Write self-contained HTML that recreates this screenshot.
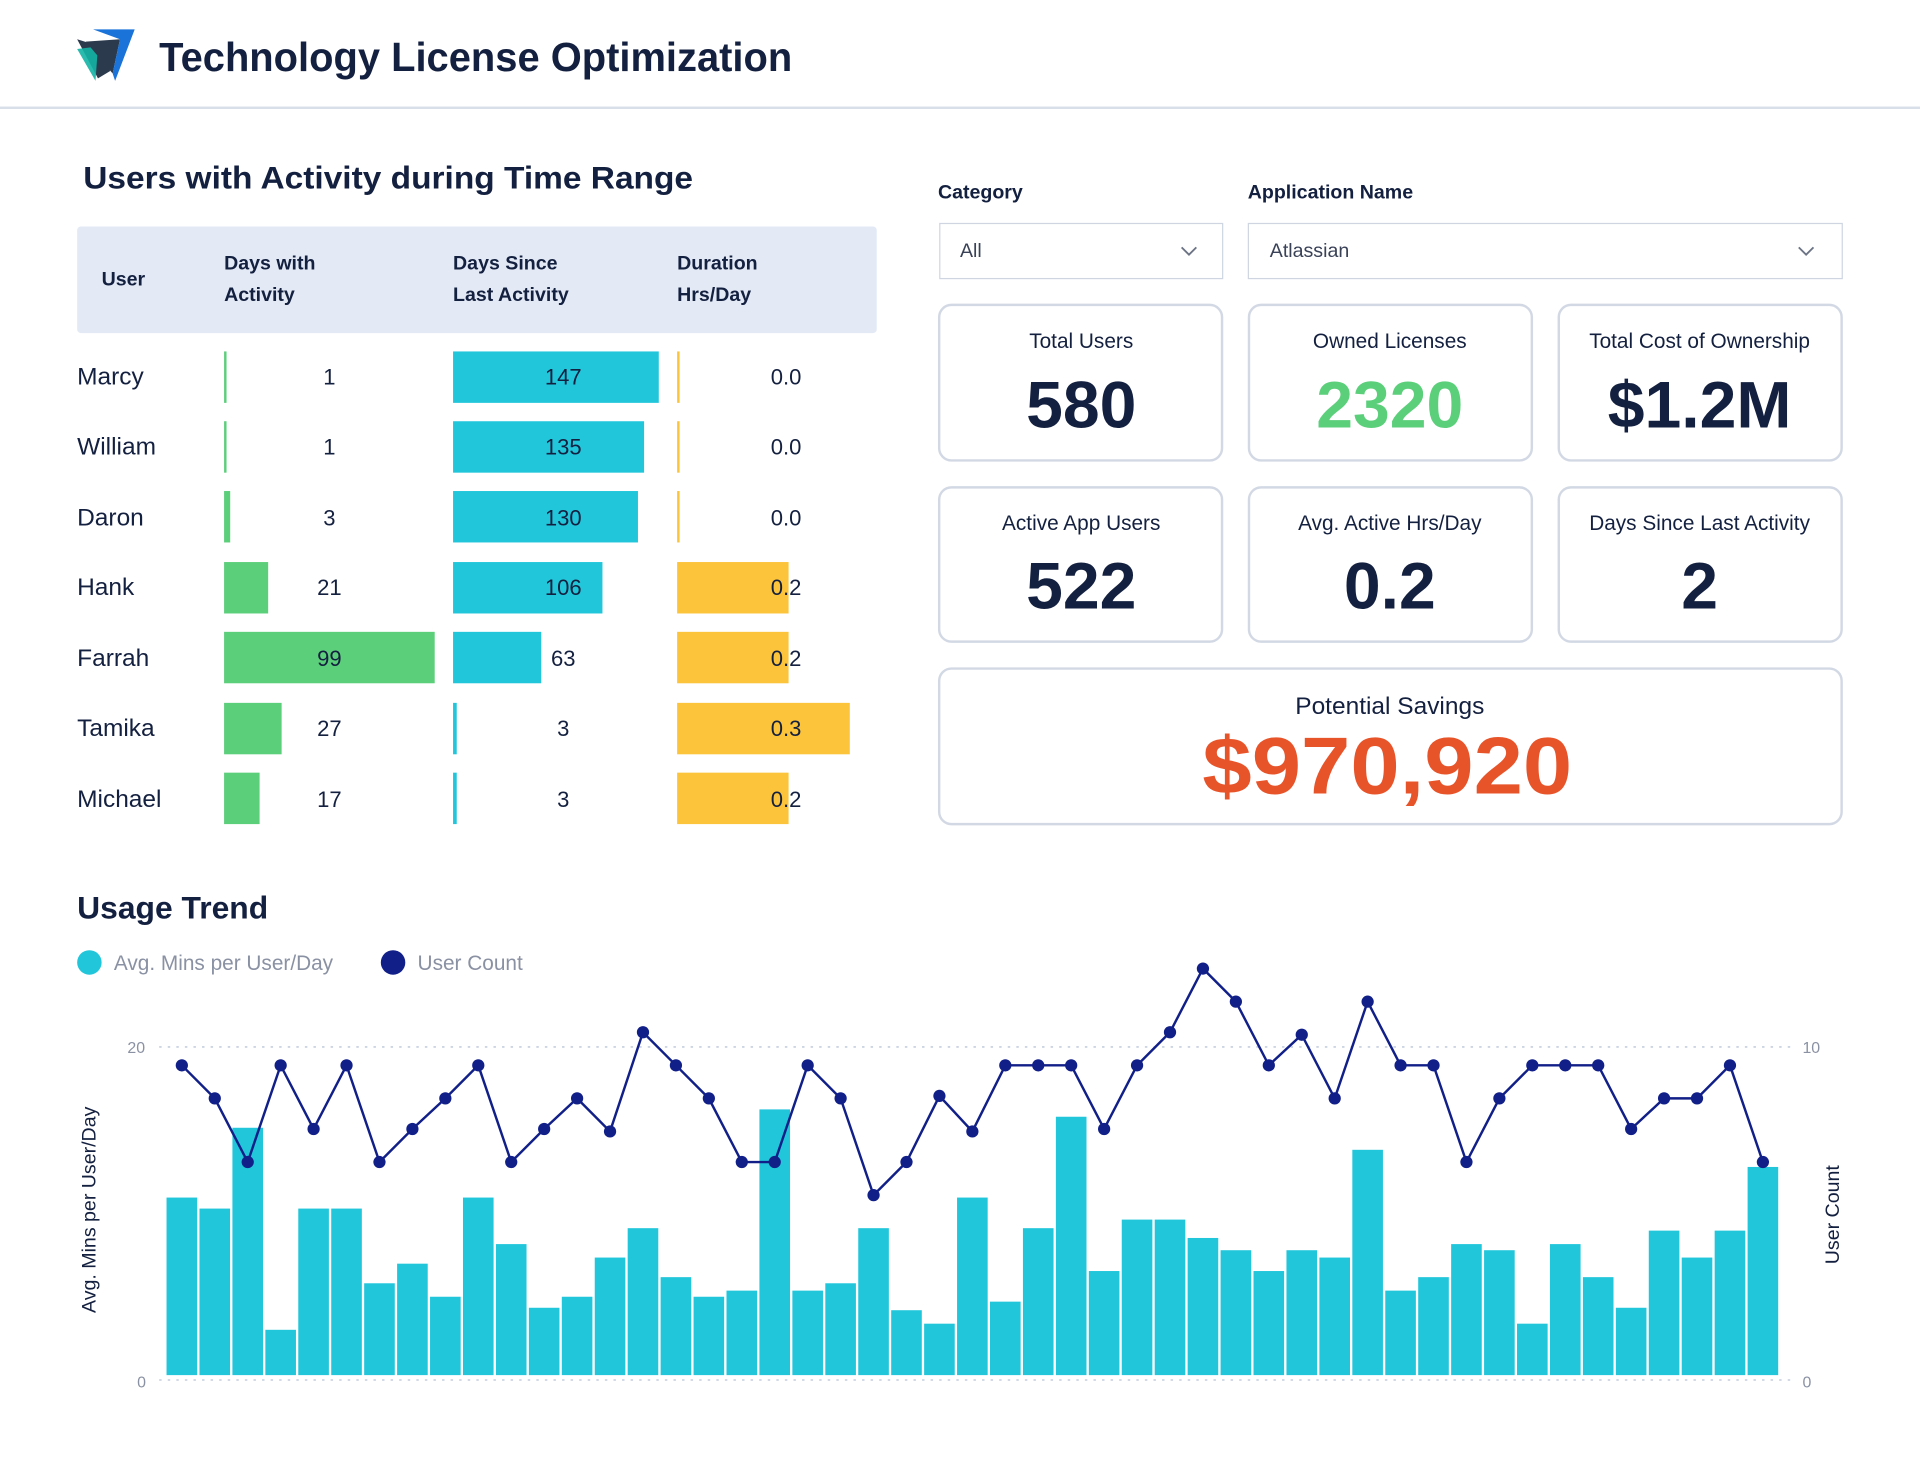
<!DOCTYPE html>
<html><head><meta charset="utf-8"><style>html,body{margin:0;padding:0;background:#fff}svg{display:block}text{font-family:"Liberation Sans",sans-serif}</style></head>
<body>
<svg width="1920" height="1459" viewBox="0 0 1568 1191.5" xmlns="http://www.w3.org/2000/svg">
<rect width="1568" height="1192" fill="#fff"/>
<!-- header -->
<polygon points="63,32 82,38 90,58 80,64" fill="#2b3a4c"/>
<polygon points="63,40 80,38 78,66" fill="#13b3a5" opacity="0.9"/>
<polygon points="70,34 98,32 92,60" fill="#2b3a4c"/>
<polygon points="76,24 110,24 94,66 92,60 98,32" fill="#1a73d9"/>
<text x="130" y="58" font-size="33" font-weight="bold" fill="#14203f" textLength="517" lengthAdjust="spacingAndGlyphs">Technology License Optimization</text>
<rect x="0" y="87" width="1568" height="2" fill="#d8dfe9"/>
<!-- table -->
<text x="68" y="154" font-size="26" font-weight="bold" fill="#14203f" textLength="498" lengthAdjust="spacingAndGlyphs">Users with Activity during Time Range</text>
<rect x="63" y="185" width="653" height="87" rx="3" fill="#e3eaf6"/>
<g font-size="16" font-weight="bold" fill="#14203f">
<text x="83" y="233">User</text>
<text x="183" y="220">Days with</text><text x="183" y="246">Activity</text>
<text x="370" y="220">Days Since</text><text x="370" y="246">Last Activity</text>
<text x="553" y="220">Duration</text><text x="553" y="246">Hrs/Day</text>
</g>
<g font-size="20" fill="#14203f">
<text x="63" y="314">Marcy</text><text x="63" y="371">William</text><text x="63" y="429">Daron</text><text x="63" y="486">Hank</text><text x="63" y="544">Farrah</text><text x="63" y="601">Tamika</text><text x="63" y="659">Michael</text>
</g>
<g fill="#5ccf7b">
<rect x="183" y="287" width="2" height="42"/><rect x="183" y="344" width="2" height="42"/><rect x="183" y="401" width="5" height="42"/><rect x="183" y="459" width="36" height="42"/><rect x="183" y="516" width="172" height="42"/><rect x="183" y="574" width="47" height="42"/><rect x="183" y="631" width="29" height="42"/>
</g>
<g fill="#22c6db">
<rect x="370" y="287" width="168" height="42"/><rect x="370" y="344" width="156" height="42"/><rect x="370" y="401" width="151" height="42"/><rect x="370" y="459" width="122" height="42"/><rect x="370" y="516" width="72" height="42"/><rect x="370" y="574" width="3" height="42"/><rect x="370" y="631" width="3" height="42"/>
</g>
<g fill="#fcc43a">
<rect x="553" y="287" width="2" height="42"/><rect x="553" y="344" width="2" height="42"/><rect x="553" y="401" width="2" height="42"/><rect x="553" y="459" width="91" height="42"/><rect x="553" y="516" width="91" height="42"/><rect x="553" y="574" width="141" height="42"/><rect x="553" y="631" width="91" height="42"/>
</g>
<g font-size="18" fill="#14203f" text-anchor="middle">
<text x="269" y="314">1</text><text x="269" y="371">1</text><text x="269" y="429">3</text><text x="269" y="486">21</text><text x="269" y="544">99</text><text x="269" y="601">27</text><text x="269" y="659">17</text>
<text x="460" y="314">147</text><text x="460" y="371">135</text><text x="460" y="429">130</text><text x="460" y="486">106</text><text x="460" y="544">63</text><text x="460" y="601">3</text><text x="460" y="659">3</text>
<text x="642" y="314">0.0</text><text x="642" y="371">0.0</text><text x="642" y="429">0.0</text><text x="642" y="486">0.2</text><text x="642" y="544">0.2</text><text x="642" y="601">0.3</text><text x="642" y="659">0.2</text>
</g>
<!-- filters -->
<text x="766" y="162" font-size="16" font-weight="bold" fill="#14203f">Category</text>
<text x="1019" y="162" font-size="16" font-weight="bold" fill="#14203f">Application Name</text>
<rect x="767.5" y="182.5" width="231" height="45" fill="#fff" stroke="#cfd6e2"/>
<rect x="1019.5" y="182.5" width="485" height="45" fill="#fff" stroke="#cfd6e2"/>
<text x="784" y="210" font-size="16" fill="#3a4258">All</text>
<text x="1037" y="210" font-size="16" fill="#3a4258">Atlassian</text>
<polyline points="965,202 971,208 977,202" fill="none" stroke="#6b7385" stroke-width="1.5"/>
<polyline points="1469,202 1475,208 1481,202" fill="none" stroke="#6b7385" stroke-width="1.5"/>
<!-- cards -->
<g fill="#fff" stroke="#d3d9e4" stroke-width="2">
<rect x="767" y="249" width="231" height="127" rx="10"/><rect x="1020" y="249" width="231" height="127" rx="10"/><rect x="1273" y="249" width="231" height="127" rx="10"/>
<rect x="767" y="398" width="231" height="126" rx="10"/><rect x="1020" y="398" width="231" height="126" rx="10"/><rect x="1273" y="398" width="231" height="126" rx="10"/>
<rect x="767" y="546" width="737" height="127" rx="10"/>
</g>
<g text-anchor="middle" font-size="17" fill="#14203f">
<text x="883" y="284">Total Users</text><text x="1135" y="284">Owned Licenses</text><text x="1388" y="284">Total Cost of Ownership</text>
<text x="883" y="433">Active App Users</text><text x="1135" y="433">Avg. Active Hrs/Day</text><text x="1388" y="433">Days Since Last Activity</text>
<text x="1135" y="583" font-size="20">Potential Savings</text>
</g>
<g text-anchor="middle" font-size="54" font-weight="bold" fill="#14203f">
<text x="883" y="349">580</text><text x="1135" y="349" fill="#5ccf7b">2320</text><text x="1388" y="349">$1.2M</text>
<text x="883" y="497">522</text><text x="1135" y="497">0.2</text><text x="1388" y="497">2</text>
<text x="1133" y="648" font-size="66" fill="#e8542a" textLength="302" lengthAdjust="spacingAndGlyphs">$970,920</text>
</g>
<!-- usage trend -->
<text x="63" y="750" font-size="26" font-weight="bold" fill="#14203f">Usage Trend</text>
<circle cx="73" cy="786" r="10" fill="#22c6db"/><text x="93" y="792" font-size="17" fill="#8a91a3">Avg. Mins per User/Day</text>
<circle cx="321" cy="786" r="10" fill="#111f88"/><text x="341" y="792" font-size="17" fill="#8a91a3">User Count</text>
<line x1="130" y1="855" x2="1465" y2="855" stroke="#cdd5e3" stroke-width="1.5" stroke-dasharray="2,5"/>
<line x1="130" y1="1127" x2="1465" y2="1127" stroke="#cdd5e3" stroke-width="1.5" stroke-dasharray="2,5"/>
<g font-size="13" fill="#8a91a3"><text x="104" y="860">20</text><text x="112" y="1133">0</text><text x="1472" y="860">10</text><text x="1472" y="1133">0</text></g>
<text transform="translate(78,988) rotate(-90)" text-anchor="middle" font-size="16" fill="#14203f">Avg. Mins per User/Day</text>
<text transform="translate(1502,992) rotate(-90)" text-anchor="middle" font-size="16" fill="#14203f">User Count</text>
<g fill="#22c6db">
<rect x="136" y="978" width="25" height="145"/><rect x="162.9" y="987" width="25" height="136"/><rect x="189.8" y="921" width="25" height="202"/><rect x="216.7" y="1086" width="25" height="37"/><rect x="243.6" y="987" width="25" height="136"/><rect x="270.5" y="987" width="25" height="136"/><rect x="297.4" y="1048" width="25" height="75"/><rect x="324.3" y="1032" width="25" height="91"/><rect x="351.2" y="1059" width="25" height="64"/><rect x="378.1" y="978" width="25" height="145"/><rect x="405" y="1016" width="25" height="107"/><rect x="431.9" y="1068" width="25" height="55"/><rect x="458.8" y="1059" width="25" height="64"/><rect x="485.7" y="1027" width="25" height="96"/><rect x="512.6" y="1003" width="25" height="120"/><rect x="539.5" y="1043" width="25" height="80"/><rect x="566.4" y="1059" width="25" height="64"/><rect x="593.3" y="1054" width="25" height="69"/><rect x="620.2" y="906" width="25" height="217"/><rect x="647.1" y="1054" width="25" height="69"/><rect x="674" y="1048" width="25" height="75"/><rect x="700.9" y="1003" width="25" height="120"/><rect x="727.8" y="1070" width="25" height="53"/><rect x="754.7" y="1081" width="25" height="42"/><rect x="781.6" y="978" width="25" height="145"/><rect x="808.5" y="1063" width="25" height="60"/><rect x="835.4" y="1003" width="25" height="120"/><rect x="862.3" y="912" width="25" height="211"/><rect x="889.2" y="1038" width="25" height="85"/><rect x="916.1" y="996" width="25" height="127"/><rect x="943" y="996" width="25" height="127"/><rect x="969.9" y="1011" width="25" height="112"/><rect x="996.8" y="1021" width="25" height="102"/><rect x="1023.7" y="1038" width="25" height="85"/><rect x="1050.6" y="1021" width="25" height="102"/><rect x="1077.5" y="1027" width="25" height="96"/><rect x="1104.4" y="939" width="25" height="184"/><rect x="1131.3" y="1054" width="25" height="69"/><rect x="1158.2" y="1043" width="25" height="80"/><rect x="1185.1" y="1016" width="25" height="107"/><rect x="1212" y="1021" width="25" height="102"/><rect x="1238.9" y="1081" width="25" height="42"/><rect x="1265.8" y="1016" width="25" height="107"/><rect x="1292.7" y="1043" width="25" height="80"/><rect x="1319.6" y="1068" width="25" height="55"/><rect x="1346.5" y="1005" width="25" height="118"/><rect x="1373.4" y="1027" width="25" height="96"/><rect x="1400.3" y="1005" width="25" height="118"/><rect x="1427.2" y="953" width="25" height="170"/>
</g>
<polyline fill="none" stroke="#111f88" stroke-width="2" points="148.5,870 175.4,897 202.3,949 229.2,870 256.1,922 283,870 309.9,949 336.8,922 363.7,897 390.6,870 417.5,949 444.4,922 471.3,897 498.2,924 525.1,843 552,870 578.9,897 605.8,949 632.7,949 659.6,870 686.5,897 713.4,976 740.3,949 767.2,895 794.1,924 821,870 847.9,870 874.8,870 901.7,922 928.6,870 955.5,843 982.4,791 1009.3,818 1036.2,870 1063.1,845 1090,897 1116.9,818 1143.8,870 1170.7,870 1197.6,949 1224.5,897 1251.4,870 1278.3,870 1305.2,870 1332.1,922 1359,897 1385.9,897 1412.8,870 1439.7,949"/>
<g fill="#111f88">
<circle cx="148.5" cy="870" r="5"/><circle cx="175.4" cy="897" r="5"/><circle cx="202.3" cy="949" r="5"/><circle cx="229.2" cy="870" r="5"/><circle cx="256.1" cy="922" r="5"/><circle cx="283" cy="870" r="5"/><circle cx="309.9" cy="949" r="5"/><circle cx="336.8" cy="922" r="5"/><circle cx="363.7" cy="897" r="5"/><circle cx="390.6" cy="870" r="5"/><circle cx="417.5" cy="949" r="5"/><circle cx="444.4" cy="922" r="5"/><circle cx="471.3" cy="897" r="5"/><circle cx="498.2" cy="924" r="5"/><circle cx="525.1" cy="843" r="5"/><circle cx="552" cy="870" r="5"/><circle cx="578.9" cy="897" r="5"/><circle cx="605.8" cy="949" r="5"/><circle cx="632.7" cy="949" r="5"/><circle cx="659.6" cy="870" r="5"/><circle cx="686.5" cy="897" r="5"/><circle cx="713.4" cy="976" r="5"/><circle cx="740.3" cy="949" r="5"/><circle cx="767.2" cy="895" r="5"/><circle cx="794.1" cy="924" r="5"/><circle cx="821" cy="870" r="5"/><circle cx="847.9" cy="870" r="5"/><circle cx="874.8" cy="870" r="5"/><circle cx="901.7" cy="922" r="5"/><circle cx="928.6" cy="870" r="5"/><circle cx="955.5" cy="843" r="5"/><circle cx="982.4" cy="791" r="5"/><circle cx="1009.3" cy="818" r="5"/><circle cx="1036.2" cy="870" r="5"/><circle cx="1063.1" cy="845" r="5"/><circle cx="1090" cy="897" r="5"/><circle cx="1116.9" cy="818" r="5"/><circle cx="1143.8" cy="870" r="5"/><circle cx="1170.7" cy="870" r="5"/><circle cx="1197.6" cy="949" r="5"/><circle cx="1224.5" cy="897" r="5"/><circle cx="1251.4" cy="870" r="5"/><circle cx="1278.3" cy="870" r="5"/><circle cx="1305.2" cy="870" r="5"/><circle cx="1332.1" cy="922" r="5"/><circle cx="1359" cy="897" r="5"/><circle cx="1385.9" cy="897" r="5"/><circle cx="1412.8" cy="870" r="5"/><circle cx="1439.7" cy="949" r="5"/>
</g>
</svg>
</body></html>
